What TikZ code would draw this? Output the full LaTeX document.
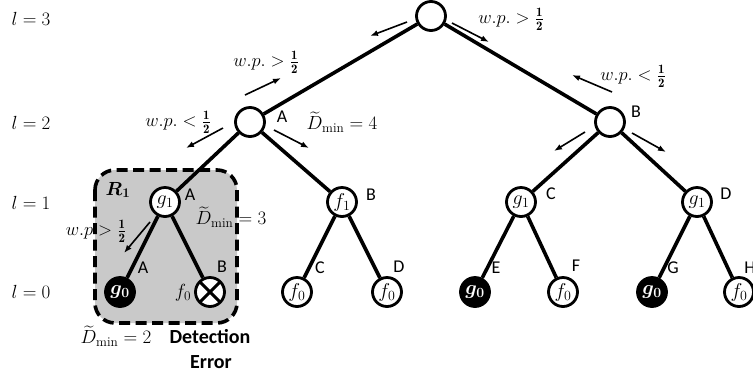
\RequirePackage{fix-cm}
\documentclass[tikz,border=0pt]{standalone}
\usepackage{amsmath}
\usepackage{fontspec}
\setsansfont{Carlito}
\usetikzlibrary{arrows.meta}
\tikzset{
  tn/.style={circle, draw, line width=2.8pt, fill=white, minimum size=29pt, inner sep=0pt, font=\fontsize{20}{20}\selectfont},
  bn/.style={tn, fill=black, text=white},
  xn/.style={tn, path picture={
      \draw[line width=3pt] (path picture bounding box.north west) -- (path picture bounding box.south east);
      \draw[line width=3pt] (path picture bounding box.north east) -- (path picture bounding box.south west);}},
  edge/.style={line width=3.6pt},
  arr/.style={line width=1.6pt, -{Latex[length=8pt,width=6pt]}},
  lab/.style={font=\sffamily\fontsize{18}{18}\selectfont, inner sep=0pt},
  mt/.style={font=\fontsize{19}{19}\selectfont, inner sep=0pt},
  wp/.style={font=\fontsize{18.4}{18.4}\selectfont, inner sep=0pt},
  region/.style={draw, line width=3.6pt, dash pattern=on 11pt off 5.5pt, fill=black!21, rounded corners=20pt},
  bold/.style={font=\sffamily\bfseries\fontsize{20}{20}\selectfont, inner sep=0pt}
}
\newcommand{\half}{\tfrac{\mathbf{1}}{\mathbf{2}}}
\begin{document}
\begin{tikzpicture}[x=1pt,y=-1pt]
\useasboundingbox (0,0) rectangle (753,376);
% region R1
\draw[region] (95,170) rectangle (237,323);
% nodes
\node[tn] (root) at (431,16) {};
\node[tn] (a2) at (250,122) {};
\node[tn] (b2) at (610,122) {};
\node[tn] (a1) at (165,202) {$g_1$};
\node[tn] (b1) at (342,202) {$f_1$};
\node[tn] (c1) at (521,202) {$g_1$};
\node[tn] (d1) at (697,202) {$g_1$};
\node[bn] (a0) at (120,292) {$\boldsymbol{g_0}$};
\node[xn] (b0) at (210,292) {};
\node[tn] (c0) at (297,292) {$f_0$};
\node[tn] (d0) at (387,292) {$f_0$};
\node[bn] (e0) at (475,292) {$\boldsymbol{g_0}$};
\node[tn] (f0) at (563,292) {$f_0$};
\node[bn] (g0) at (652,292) {$\boldsymbol{g_0}$};
\node[tn] (h0) at (739,292) {$f_0$};
% edges
\draw[edge] (root) -- (a2);
\draw[edge] (root) -- (b2);
\draw[edge] (a2) -- (a1);
\draw[edge] (a2) -- (b1);
\draw[edge] (b2) -- (c1);
\draw[edge] (b2) -- (d1);
\draw[edge] (a1) -- (a0);
\draw[edge] (a1) -- (b0);
\draw[edge] (b1) -- (c0);
\draw[edge] (b1) -- (d0);
\draw[edge] (c1) -- (e0);
\draw[edge] (c1) -- (f0);
\draw[edge] (d1) -- (g0);
\draw[edge] (d1) -- (h0);
% level labels
\node[mt] (l3) at (31,19) {$l=3$};
\node[mt] (l2) at (31,123) {$l=2$};
\node[mt] (l1) at (31,203) {$l=1$};
\node[mt] (l0) at (31,292) {$l=0$};
% arrows
\coordinate (r1s) at (407,22); \coordinate (r1e) at (370,36);
\coordinate (r2s) at (452,23); \coordinate (r2e) at (489,42);
\draw[arr] (r1s) -- (r1e);
\draw[arr] (r2s) -- (r2e);
\coordinate (a3s) at (245,95); \coordinate (a3e) at (281,78);
\coordinate (a4s) at (223,128); \coordinate (a4e) at (186,148);
\coordinate (a5s) at (274,130); \coordinate (a5e) at (309,148);
\draw[arr] (a3s) -- (a3e);
\draw[arr] (a4s) -- (a4e);
\draw[arr] (a5s) -- (a5e);
\coordinate (b3s) at (612,92); \coordinate (b3e) at (572,75);
\coordinate (b4s) at (585,132); \coordinate (b4e) at (554,151);
\coordinate (b5s) at (632,133); \coordinate (b5e) at (666,152);
\draw[arr] (b3s) -- (b3e);
\draw[arr] (b4s) -- (b4e);
\draw[arr] (b5s) -- (b5e);
\coordinate (g3s) at (150,222); \coordinate (g3e) at (124,253);
\draw[arr] (g3s) -- (g3e);
% probability labels
\node[wp] (p1) at (511,19) {$w.p.>\half$};
\node[wp] (p2) at (266,62) {$w.p.>\half$};
\node[wp] (p3) at (178,122) {$w.p.<\half$};
\node[wp] (p4) at (633,76) {$w.p.<\half$};
\node[wp] (p5) at (96,231) {$w.p>\half$};
% distance labels
\node[mt] (d4) at (342,122) {$\widetilde{D}_{\min}=4$};
\node[mt] (d3) at (231,217) {$\widetilde{D}_{\min}=3$};
\node[mt] (d2) at (116,336) {$\widetilde{D}_{\min}=2$};
\node[bold] (det) at (210,337) {Detection};
\node[bold] (err) at (211,362) {Error};
\node[mt] (r1) at (118,190) {$\boldsymbol{R_1}$};
\node[mt] (f0lab) at (183,293) {$f_0$};
% letter labels
\node[lab] (la2) at (282,117) {A};
\node[lab] (lb2) at (636,112) {B};
\node[lab] (la1) at (190,195) {A};
\node[lab] (lb1) at (371,195) {B};
\node[lab] (lc1) at (551,194) {C};
\node[lab] (ld1) at (726,194) {D};
\node[lab] (la0) at (143,268) {A};
\node[lab] (lb0) at (222,267) {B};
\node[lab] (lc0) at (320,268) {C};
\node[lab] (ld0) at (399,267) {D};
\node[lab] (le0) at (496,268) {E};
\node[lab] (lf0) at (576,266) {F};
\node[lab] (lg0) at (673,268) {G};
\node[lab] (lh0) at (750,268) {H};
\end{tikzpicture}
\end{document}
